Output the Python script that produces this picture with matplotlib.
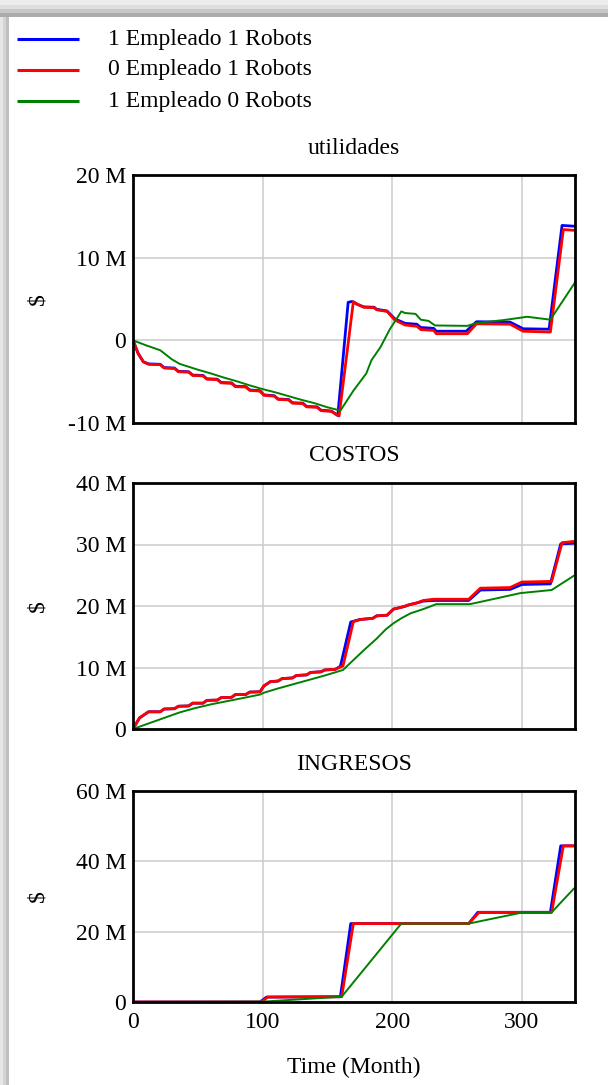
import matplotlib
matplotlib.use("Agg")
import matplotlib.pyplot as plt
from matplotlib.patches import Rectangle

# -------------------------------------------------
# Data (values in millions of $, time in months)
# -------------------------------------------------

series_names = ["1 Empleado 1 Robots", "0 Empleado 1 Robots", "1 Empleado 0 Robots"]
series_colors = ["#0000ff", "#ff0000", "#008000"]

# utilidades
util_blue_t = [0, 4, 8, 12, 21, 24, 32, 35, 43, 46, 54, 57, 65, 68, 76, 79, 87, 90, 98, 101,
               109, 112, 120, 123, 131, 134, 142, 145, 153, 158, 166, 169, 173, 178, 186,
               188, 196, 202, 210, 219, 222, 232, 234, 257, 265, 291, 301, 321, 331, 341]
util_blue_v = [0, -1.6, -2.6, -2.85, -2.9, -3.3, -3.35, -3.75, -3.8, -4.2, -4.25, -4.65, -4.7,
               -5.1, -5.15, -5.55, -5.6, -6.0, -6.1, -6.6, -6.7, -7.1, -7.15, -7.55, -7.6, -8.0,
               -8.05, -8.45, -8.55, -9.1, 4.6, 4.7, 4.35, 4.05, 4.0, 3.75, 3.55, 2.6, 2.05,
               1.95, 1.55, 1.45, 1.1, 1.1, 2.25, 2.2, 1.4, 1.35, 13.9, 13.8]

util_red_t = [0, 4, 8, 12, 21, 24, 32, 35, 43, 46, 54, 57, 65, 68, 76, 79, 87, 90, 98, 101,
              109, 112, 120, 123, 131, 134, 142, 145, 153, 159, 170, 174, 178, 186, 188,
              196, 202, 210, 219, 222, 232, 234, 258, 265, 291, 301, 322, 332, 341]
util_red_v = [0, -1.6, -2.6, -2.9, -2.95, -3.35, -3.4, -3.8, -3.85, -4.25, -4.3, -4.7, -4.75,
              -5.15, -5.2, -5.6, -5.65, -6.05, -6.15, -6.65, -6.75, -7.15, -7.2, -7.6, -7.65,
              -8.05, -8.1, -8.5, -8.6, -9.15, 4.67, 4.3, 4.0, 3.95, 3.7, 3.5, 2.45, 1.85,
              1.7, 1.3, 1.2, 0.8, 0.8, 2.0, 1.95, 1.1, 1.0, 13.4, 13.3]

util_green_t = [0, 10, 21, 30, 36, 44, 50, 60, 70, 80, 90, 100, 110, 120, 130, 140, 150, 160,
                170, 180, 184, 191, 198, 207, 210, 218, 222, 228, 233, 258, 265, 286, 304,
                322, 341]
util_green_v = [0, -0.6, -1.2, -2.3, -2.85, -3.25, -3.55, -4.0, -4.5, -4.95, -5.45, -5.9, -6.3,
                -6.75, -7.2, -7.6, -8.1, -8.5, -6.1, -4.0, -2.4, -0.8, 1.3, 3.5, 3.3, 3.2,
                2.5, 2.35, 1.8, 1.75, 2.1, 2.45, 2.85, 2.5, 7.0]

# COSTOS
cost_blue_t = [0, 5, 12, 21, 24, 32, 35, 43, 46, 54, 57, 65, 68, 76, 79, 87, 90, 98, 101, 106,
               112, 115, 123, 126, 134, 137, 145, 148, 156, 160, 168, 175, 185, 188, 196, 201,
               209, 213, 219, 224, 232, 259, 268, 291, 300, 322, 330, 340]
cost_blue_v = [0, 1.8, 2.8, 2.8, 3.25, 3.3, 3.7, 3.75, 4.2, 4.2, 4.65, 4.7, 5.1, 5.15, 5.6,
               5.6, 6.0, 6.05, 7.0, 7.7, 7.8, 8.2, 8.3, 8.7, 8.8, 9.2, 9.3, 9.6, 9.7, 10.2,
               17.4, 17.8, 18.0, 18.4, 18.5, 19.5, 19.9, 20.2, 20.5, 20.8, 20.9, 20.9, 22.6,
               22.7, 23.5, 23.6, 30.1, 30.2]

cost_red_t = [0, 5, 12, 21, 24, 32, 35, 43, 46, 54, 57, 65, 68, 76, 79, 87, 90, 98, 101, 106,
              112, 115, 123, 126, 134, 137, 145, 148, 156, 162, 170, 175, 185, 188, 196, 201,
              209, 213, 219, 224, 232, 259, 268, 291, 300, 323, 331, 340]
cost_red_v = [0, 1.8, 2.8, 2.8, 3.25, 3.3, 3.7, 3.75, 4.2, 4.2, 4.65, 4.7, 5.1, 5.15, 5.6,
              5.6, 6.0, 6.05, 7.0, 7.7, 7.8, 8.2, 8.3, 8.7, 8.8, 9.2, 9.3, 9.6, 9.7, 10.25,
              17.45, 17.8, 18.0, 18.4, 18.5, 19.5, 19.9, 20.2, 20.5, 20.9, 21.1, 21.1, 22.9,
              23.0, 23.9, 24.0, 30.3, 30.5]

cost_green_t = [0, 12, 24, 36, 48, 60, 72, 84, 98, 101, 112, 124, 136, 148, 162, 170, 178,
                188, 195, 201, 207, 214, 224, 234, 260, 299, 323, 340]
cost_green_v = [0, 0.9, 1.8, 2.7, 3.4, 4.0, 4.5, 5.0, 5.6, 5.9, 6.6, 7.3, 8.0, 8.7, 9.6, 11.2,
                12.8, 14.7, 16.2, 17.2, 18.0, 18.8, 19.5, 20.3, 20.3, 22.1, 22.6, 24.9]

# INGRESOS
ing_blue_t = [0, 98, 103, 160, 168, 259, 266, 322, 330, 340]
ing_blue_v = [0, 0, 1.4, 1.5, 22.3, 22.3, 25.5, 25.5, 44.4, 44.4]

ing_red_t = [0, 99, 104, 161, 170, 259, 267, 323, 332, 340]
ing_red_v = [0, 0, 1.4, 1.5, 22.3, 22.3, 25.5, 25.5, 44.4, 44.4]

ing_green_t = [0, 100, 161, 207, 259, 301, 323, 340]
ing_green_v = [0, 0.1, 1.5, 22.3, 22.3, 25.5, 25.5, 32.2]

panels = [
    ("utilidades", [(util_blue_t, util_blue_v), (util_red_t, util_red_v), (util_green_t, util_green_v)],
     [-10, 0, 10, 20], ["-10 M", "0", "10 M", "20 M"]),
    ("COSTOS", [(cost_blue_t, cost_blue_v), (cost_red_t, cost_red_v), (cost_green_t, cost_green_v)],
     [0, 10, 20, 30, 40], ["0", "10 M", "20 M", "30 M", "40 M"]),
    ("INGRESOS", [(ing_blue_t, ing_blue_v), (ing_red_t, ing_red_v), (ing_green_t, ing_green_v)],
     [0, 20, 40, 60], ["0", "20 M", "40 M", "60 M"]),
]

x_ticks = [0, 100, 200, 300]
x_max = 341

# -------------------------------------------------
# Figure
# -------------------------------------------------

W, H = 608, 1085
plt.rcParams["font.family"] = ["Liberation Serif", "DejaVu Serif"]
FS = 17

fig = plt.figure(figsize=(W / 100, H / 100), dpi=100)
fig.patch.set_facecolor("white")

# window shadow (top and left edges) + legend, drawn in pixel coordinates
bg = fig.add_axes([0, 0, 1, 1], zorder=-10)
bg.set_xlim(0, W)
bg.set_ylim(H, 0)
bg.axis("off")
top_bands = [(0, 5, "#ececec"), (5, 9, "#dedede"), (9, 13, "#c8c8c8"), (13, 17, "#acacac")]
for y0, y1, c in top_bands:
    bg.add_patch(Rectangle((0, y0), W, y1 - y0, color=c, lw=0))
left_bands = [(0, 3, "#e6e6e6"), (3, 6, "#d4d4d4"), (6, 9, "#bfbfbf")]
for x0, x1, c in left_bands:
    bg.add_patch(Rectangle((x0, 17), x1 - x0, H - 17, color=c, lw=0))

legend_rows = [39, 70, 101]
for yy, name, color in zip(legend_rows, series_names, series_colors):
    bg.plot([17, 79], [yy, yy], color=color, lw=2.2, solid_capstyle="butt")
    bg.text(108, yy, name, fontsize=FS, ha="left", va="center")

# axes boxes in pixels: (left, top, right, bottom)
boxes = [(133, 175, 575, 423), (133, 483, 575, 729), (133, 791, 575, 1002)]

for i, ((title, data, yt, ylab), (l, t, r, b)) in enumerate(zip(panels, boxes)):
    ax = fig.add_axes([l / W, 1 - b / H, (r - l) / W, (b - t) / H])
    for (ts, vs), color, name in zip(data, series_colors, series_names):
        lw = 1.4 if color == "#008000" else 2.0
        ax.plot(ts, vs, color=color, lw=lw, label=name)
    ax.set_xlim(0, x_max)
    ax.set_ylim(yt[0], yt[-1])
    ax.set_yticks(yt, ylab)
    ax.set_xticks(x_ticks)
    ax.grid(True, color="#cccccc", lw=1.1)
    ax.set_axisbelow(True)
    ax.tick_params(length=0, labelsize=FS, pad=5)
    ax.tick_params(axis="x", pad=7)
    for s in ax.spines.values():
        s.set_linewidth(2.0)
        s.set_color("black")
    if i < 2:
        ax.tick_params(labelbottom=False)
    ax.text(0.5, 1 + 27 / (b - t), title, transform=ax.transAxes,
            ha="center", va="center", fontsize=FS)
    fig.text(38 / W, 1 - (t + b) / 2 / H, "$", fontsize=FS, rotation=90,
             ha="center", va="center")
    if i == 2:
        fig.text((l + r) / 2 / W, 1 - 1067 / H, "Time (Month)", fontsize=FS,
                 ha="center", va="center")

fig.savefig("out.png", dpi=100)
